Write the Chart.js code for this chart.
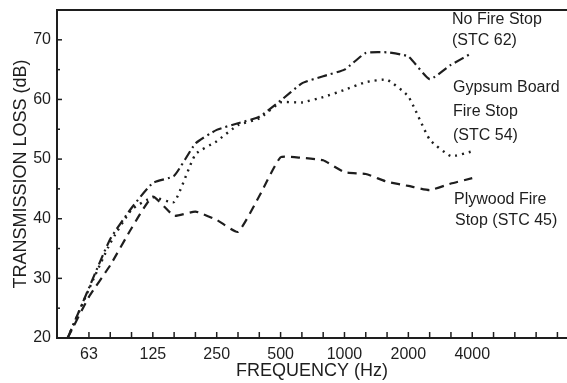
<!DOCTYPE html>
<html>
<head>
<meta charset="utf-8">
<script src="https://cdn.jsdelivr.net/npm/chart.js@4.4.0/dist/chart.umd.min.js"></script>
<style>
  html, body { margin: 0; padding: 0; background: #fff; }
  #wrap { width: 567px; height: 383px; position: relative; }
</style>
</head>
<body>
<div id="wrap"><canvas id="chart"></canvas></div>
<script>
// third-octave bands, index 0 = 50 Hz
const bands = ['50', '63', '80', '100', '125', '160', '200', '250', '315', '400',
  '500', '630', '800', '1000', '1250', '1600', '2000', '2500', '3150', '4000'];
const labeledBands = ['63', '125', '250', '500', '1000', '2000', '4000'];
const tickCount = 24; // tick marks keep going past 4000 Hz

// transmission loss (dB) per band
const noFireStop = [20, 28.4, 36.6, 41.8, 46.0, 47.2, 52.6, 54.9, 56.0, 57.1,
  59.8, 62.7, 63.9, 65.0, 67.8, 67.9, 67.2, 63.4, 65.8, 67.8];
const gypsumBoard = [20, 28.2, 35.9, 41.5, 43.6, 42.8, 50.8, 53.0, 55.7, 56.8,
  59.5, 59.5, 60.4, 61.6, 62.9, 63.3, 60.5, 53.3, 50.5, 51.3];
const plywood = [20, 26.9, 32.2, 38.4, 43.7, 40.5, 41.2, 39.8, 37.8, 43.8,
  50.3, 50.2, 49.8, 47.8, 47.5, 46.2, 45.5, 44.8, 45.9, 46.8];

const ink = '#1e1e1e';
const font = '"Liberation Sans", Arial, sans-serif';
const toPoints = arr => arr.map((v, i) => ({ x: i, y: v }));

// inward tick marks + top frame line + curve labels
const decorations = {
  id: 'decorations',
  afterDraw(chart) {
    const { ctx, chartArea, scales } = chart;
    ctx.save();
    ctx.strokeStyle = ink;
    ctx.lineWidth = 2;
    ctx.beginPath();
    ctx.moveTo(chartArea.left, chartArea.top);
    ctx.lineTo(chartArea.right, chartArea.top);
    ctx.stroke();

    ctx.lineWidth = 1.5;
    for (let i = 1; i < tickCount; i++) {
      const x = scales.x.getPixelForValue(i);
      ctx.beginPath();
      ctx.moveTo(x, chartArea.bottom);
      ctx.lineTo(x, chartArea.bottom - 6);
      ctx.stroke();
    }
    for (let v = 25; v <= 70; v += 5) {
      const y = scales.y.getPixelForValue(v);
      ctx.beginPath();
      ctx.moveTo(chartArea.left, y);
      ctx.lineTo(chartArea.left + (v % 10 === 0 ? 5 : 3), y);
      ctx.stroke();
    }

    ctx.fillStyle = ink;
    ctx.font = '16px ' + font;
    ctx.textBaseline = 'middle';
    ctx.fillText('No Fire Stop', 452, 20);
    ctx.fillText('(STC 62)', 452, 41);
    ctx.fillText('Gypsum Board', 453, 88);
    ctx.fillText('Fire Stop', 453, 112);
    ctx.fillText('(STC 54)', 453, 136);
    ctx.fillText('Plywood Fire', 454, 200);
    ctx.fillText('Stop (STC 45)', 455, 221);
    ctx.restore();
  }
};

new Chart(document.getElementById('chart'), {
  type: 'line',
  data: {
    datasets: [
      {
        label: 'No Fire Stop (STC 62)',
        data: toPoints(noFireStop),
        borderColor: ink,
        borderWidth: 2.2,
        borderDash: [10, 4, 2, 4],
        pointRadius: 0,
        tension: 0.15
      },
      {
        label: 'Gypsum Board Fire Stop (STC 54)',
        data: toPoints(gypsumBoard),
        borderColor: ink,
        borderWidth: 2.4,
        borderDash: [2, 5],
        pointRadius: 0,
        tension: 0.15
      },
      {
        label: 'Plywood Fire Stop (STC 45)',
        data: toPoints(plywood),
        borderColor: ink,
        borderWidth: 2.2,
        borderDash: [9, 6],
        pointRadius: 0,
        tension: 0.15
      }
    ]
  },
  options: {
    responsive: true,
    maintainAspectRatio: false,
    animation: false,
    layout: { padding: { top: 10, right: 0, left: 0, bottom: 0 } },
    plugins: {
      legend: { display: false },
      tooltip: { enabled: false }
    },
    scales: {
      x: {
        type: 'linear',
        min: -0.5,
        max: 23.45,
        afterFit: s => { s.height = 45; s.paddingLeft = 0; s.paddingRight = 0; },
        afterBuildTicks: s => {
          s.ticks = bands.map((b, i) => ({ value: i }));
        },
        ticks: {
          autoSkip: false,
          maxRotation: 0,
          padding: 7,
          color: ink,
          font: { family: font, size: 16 },
          callback: v => labeledBands.includes(bands[v]) ? bands[v] : ''
        },
        grid: { drawOnChartArea: false, drawTicks: false },
        border: { display: true, color: ink, width: 2 },
        title: {
          display: true,
          text: 'FREQUENCY (Hz)',
          color: ink,
          font: { family: font, size: 18 },
          padding: { top: 0, bottom: 1 }
        }
      },
      y: {
        min: 20,
        max: 75,
        afterFit: s => { s.width = 57; s.paddingTop = 0; s.paddingBottom = 0; },
        ticks: {
          stepSize: 5,
          padding: 6,
          color: ink,
          font: { family: font, size: 16 },
          callback: v => v % 10 === 0 && v <= 70 ? v : ''
        },
        grid: { drawOnChartArea: false, drawTicks: false },
        border: { display: true, color: ink, width: 2 },
        title: {
          display: true,
          text: 'TRANSMISSION LOSS (dB)',
          color: ink,
          font: { family: font, size: 18 },
          padding: { top: 10, bottom: 0 }
        }
      }
    }
  },
  plugins: [decorations]
});
</script>
</body>
</html>
